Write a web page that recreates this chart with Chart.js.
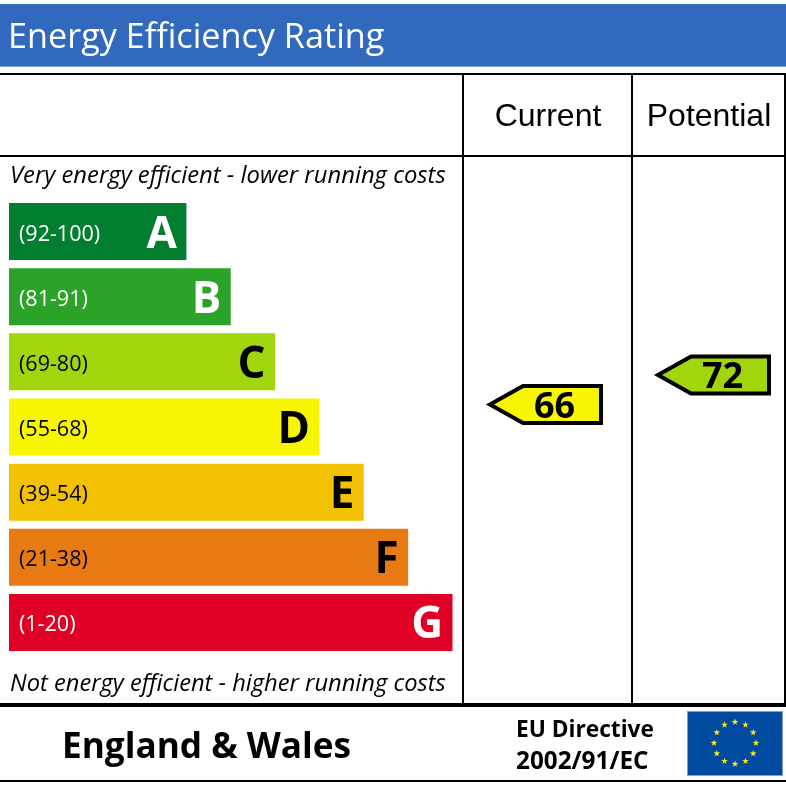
<!DOCTYPE html>
<html>
<head>
<meta charset="utf-8">
<style>
  html, body { margin: 0; padding: 0; background: #fff; }
  canvas { display: block; }
</style>
<script src="https://cdn.jsdelivr.net/npm/chart.js@4"></script>
</head>
<body>
<canvas id="chart" width="786" height="786"></canvas>
<script>
var bands = ["A", "B", "C", "D", "E", "F", "G"];
var ranges = ["(92-100)", "(81-91)", "(69-80)", "(55-68)", "(39-54)", "(21-38)", "(1-20)"];
var barLengths = [4, 5, 6, 7, 8, 9, 10];
var bandColors = ["#027e30", "#2ba329", "#a1d50c", "#f8f500", "#f2c200", "#e87a14", "#e10025"];
var textColors = ["#fff", "#fff", "#000", "#000", "#000", "#000", "#fff"];
var columns = ["Current", "Potential"];
var ratings = [66, 72];
var ratingColors = ["#f8f500", "#a1d50c"];

var sans = "'Open Sans', sans-serif";

function text(ctx, str, x, y, font, color, align) {
  ctx.font = font;
  ctx.fillStyle = color;
  ctx.textAlign = align || "left";
  ctx.textBaseline = "alphabetic";
  ctx.fillText(str, x, y);
}

function line(ctx, x1, y1, x2, y2, w) {
  ctx.fillStyle = "#000";
  ctx.fillRect(x1, y1, (x2 - x1) || w, (y2 - y1) || w);
}

function star(ctx, cx, cy, r) {
  ctx.beginPath();
  for (var i = 0; i < 10; i++) {
    var a = -Math.PI / 2 + i * Math.PI / 5;
    var rr = i % 2 ? r * 0.4 : r;
    ctx.lineTo(cx + rr * Math.cos(a), cy + rr * Math.sin(a));
  }
  ctx.closePath();
  ctx.fill();
}

var epcFrame = {
  id: "epcFrame",
  beforeDraw: function(chart) {
    var ctx = chart.ctx;
    ctx.save();
    ctx.fillStyle = "#fff";
    ctx.fillRect(0, 0, 786, 786);

    // title band
    ctx.fillStyle = "#3169bc";
    ctx.fillRect(0, 4, 786, 62);
    ctx.fillStyle = "#7fa3d8";
    ctx.fillRect(0, 66, 786, 1);
    text(ctx, "Energy Efficiency Rating", 8, 48, "34.2px " + sans, "#fff");

    // table rules
    line(ctx, 0, 73, 786, 73, 2);
    line(ctx, 0, 155, 786, 155, 2);
    line(ctx, 0, 703, 786, 703, 4);
    line(ctx, 0, 780, 786, 780, 2);
    line(ctx, 462, 73, 462, 703, 2);
    line(ctx, 631, 73, 631, 703, 2);
    line(ctx, 784, 73, 784, 703, 2);

    text(ctx, columns[0], 548, 126, "32px 'Liberation Sans', sans-serif", "#000", "center");
    text(ctx, columns[1], 709, 126, "32px 'Liberation Sans', sans-serif", "#000", "center");
    text(ctx, "Very energy efficient - lower running costs", 10, 183, "italic 23.8px " + sans, "#000");
    text(ctx, "Not energy efficient - higher running costs", 10, 691, "italic 23.7px " + sans, "#000");

    // footer
    text(ctx, "England & Wales", 62, 758, "bold 35.2px " + sans, "#000");
    text(ctx, "EU Directive", 516, 737, "bold 22.7px " + sans, "#000");
    text(ctx, "2002/91/EC", 516, 769, "bold 24.3px " + sans, "#000");

    // flag
    ctx.fillStyle = "#7fa0cf";
    ctx.fillRect(687, 711, 96, 65);
    ctx.fillStyle = "#004a9f";
    ctx.fillRect(688, 712, 94, 63);
    ctx.fillStyle = "#f8e81c";
    for (var i = 0; i < 12; i++) {
      var a = i * Math.PI / 6;
      star(ctx, 735 + 21 * Math.sin(a), 743 - 21 * Math.cos(a), 3.5);
    }
    ctx.restore();
  },
  afterDatasetsDraw: function(chart) {
    var ctx = chart.ctx;
    ctx.save();

    // band labels
    chart.getDatasetMeta(0).data.forEach(function(bar, i) {
      text(ctx, ranges[i], 19, bar.y + 9, "21.5px " + sans, textColors[i]);
      text(ctx, bands[i], bar.x - 9.5, bar.y + 16, "bold 44px " + sans, textColors[i], "right");
    });

    // rating arrows
    var pt = chart.getDatasetMeta(1).data;
    pt.forEach(function(p, i) {
      ctx.beginPath();
      ctx.moveTo(p.x - 55, p.y);
      ctx.lineTo(p.x - 22, p.y - 18.5);
      ctx.lineTo(p.x + 56, p.y - 18.5);
      ctx.lineTo(p.x + 56, p.y + 18.5);
      ctx.lineTo(p.x - 22, p.y + 18.5);
      ctx.closePath();
      ctx.fillStyle = ratingColors[i];
      ctx.fill();
      ctx.lineWidth = 4;
      ctx.strokeStyle = "#000";
      ctx.lineJoin = "miter";
      ctx.stroke();
      text(ctx, String(ratings[i]), p.x + 9.5, p.y + 13, "bold 36px " + sans, "#000", "center");
    });
    ctx.restore();
  }
};

new Chart(document.getElementById("chart"), {
  data: {
    labels: bands,
    datasets: [
      {
        type: "bar",
        data: barLengths,
        backgroundColor: bandColors,
        borderWidth: 0,
        grouped: false,
        barPercentage: 0.875,
        categoryPercentage: 1,
        xAxisID: "x",
        yAxisID: "y"
      },
      {
        type: "scatter",
        data: ratings.map(function(r, i) { return { x: i + 1, y: r }; }),
        pointRadius: 0,
        xAxisID: "xColumn",
        yAxisID: "yRating"
      }
    ]
  },
  plugins: [epcFrame],
  options: {
    indexAxis: "y",
    responsive: false,
    animation: false,
    devicePixelRatio: 1,
    layout: { padding: { top: 199, bottom: 131, left: 0, right: 0 } },
    plugins: { legend: { display: false }, tooltip: { enabled: false } },
    scales: {
      x: { type: "linear", min: -9 / 44.35, max: 777 / 44.35, display: false, grid: { display: false } },
      y: { type: "category", display: false, grid: { display: false } },
      xColumn: { type: "linear", axis: "x", min: 1 - 545 / 168, max: 1 + 241 / 168, display: false },
      yRating: { type: "linear", axis: "y", min: 66 - 250.5 / 4.917, max: 66 + 205.5 / 4.917, display: false }
    }
  }
});
</script>
</body>
</html>
